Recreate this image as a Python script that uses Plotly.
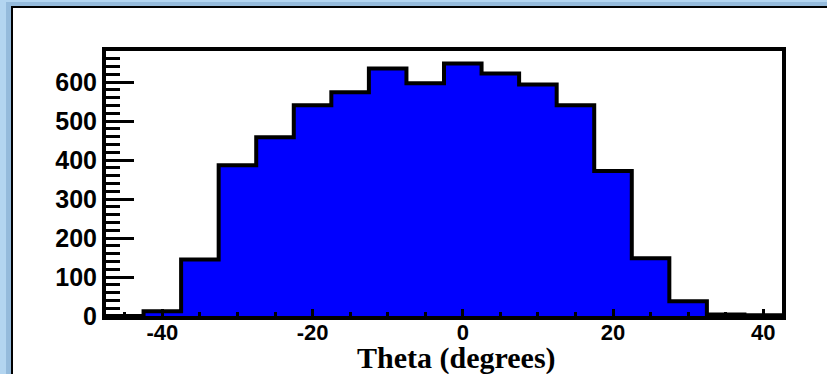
import plotly.graph_objects as go

# Histogram of theta: 18 bins, 5 degrees wide, from -47.5 to 42.5
bin_centers = [-45, -40, -35, -30, -25, -20, -15, -10, -5, 0, 5, 10, 15, 20, 25, 30, 35, 40]
counts = [0, 12, 145, 387, 459, 541, 574, 635, 597, 648, 622, 594, 541, 372, 148, 38, 4, 2]
bin_width = 5

x_tick_vals = [-40, -20, 0, 20, 40]
x_tick_text = ["-40", "-20", "0", "20", "40"]
y_tick_vals = [0, 100, 200, 300, 400, 500, 600]
y_tick_text = ["0", "100", "200", "300", "400", "500", "600"]
x_title = "Theta (degrees)"

# bin edges and step outline built from the bin centres
edges = [c - bin_width / 2 for c in bin_centers] + [bin_centers[-1] + bin_width / 2]
step_x = [edges[0]] + edges + [edges[-1]]
step_y = [0] + counts + [counts[-1], 0]

W, H = 827, 374
L, R, T, B = 106, 45, 51, 58
pw, ph = W - L - R, H - T - B


def px_to_paper_x(px):
    return (px - L) / pw


def px_to_paper_y(py):
    return (H - B - py) / ph


fig = go.Figure()

fig.add_trace(go.Bar(
    x=bin_centers, y=counts, width=bin_width,
    marker=dict(color="#0000ff", line=dict(width=0)),
    hoverinfo="skip", showlegend=False,
))
fig.add_trace(go.Scatter(
    x=step_x, y=step_y, mode="lines",
    line=dict(color="black", width=4, shape="hv"),
    hoverinfo="skip", showlegend=False,
))

# white canvas panel with its shadow on the blue window background
fig.add_shape(type="rect", xref="paper", yref="paper", layer="below",
              x0=px_to_paper_x(6), x1=px_to_paper_x(900),
              y0=px_to_paper_y(420), y1=px_to_paper_y(2),
              fillcolor="rgba(60,110,160,0.25)", line=dict(width=0))
fig.add_shape(type="rect", xref="paper", yref="paper", layer="below",
              x0=px_to_paper_x(12), x1=px_to_paper_x(900),
              y0=px_to_paper_y(420), y1=px_to_paper_y(7),
              fillcolor="white", line=dict(color="black", width=2))

x_tick_font = dict(family="Liberation Sans, Arial, sans-serif", size=22, color="black", weight="bold")
y_tick_font = dict(family="Liberation Sans, Arial, sans-serif", size=25, color="black", weight="bold")

fig.update_xaxes(
    range=[edges[0], edges[-1]],
    tickmode="array", tickvals=x_tick_vals, ticktext=x_tick_text,
    ticks="inside", ticklen=7, tickwidth=3, tickcolor="black",
    minor=dict(tickmode="linear", tick0=0, dtick=5, ticks="inside",
               ticklen=4, tickwidth=3, tickcolor="black"),
    showline=True, linecolor="black", linewidth=4, mirror=True,
    showgrid=False, zeroline=False, tickfont=x_tick_font,
    ticklabelstandoff=-6,
)
fig.update_yaxes(
    range=[0, 680],
    tickmode="array", tickvals=y_tick_vals, ticktext=y_tick_text,
    ticks="inside", ticklen=28, tickwidth=3, tickcolor="black",
    minor=dict(tickmode="linear", tick0=0, dtick=20, ticks="inside",
               ticklen=14, tickwidth=3, tickcolor="black"),
    showline=True, linecolor="black", linewidth=4, mirror=True,
    showgrid=False, zeroline=False, tickfont=y_tick_font,
)

fig.add_annotation(
    text=x_title, xref="paper", yref="paper",
    x=px_to_paper_x(456), y=px_to_paper_y(358),
    xanchor="center", yanchor="middle", showarrow=False,
    font=dict(family="Liberation Serif, Times New Roman, serif", size=30,
              color="black", weight="bold"),
)

fig.update_layout(
    width=W, height=H,
    margin=dict(l=L, r=R, t=T, b=B, pad=0),
    paper_bgcolor="#b3d5f0", plot_bgcolor="rgba(0,0,0,0)",
    bargap=0, showlegend=False,
)

fig.write_html("out.html")
